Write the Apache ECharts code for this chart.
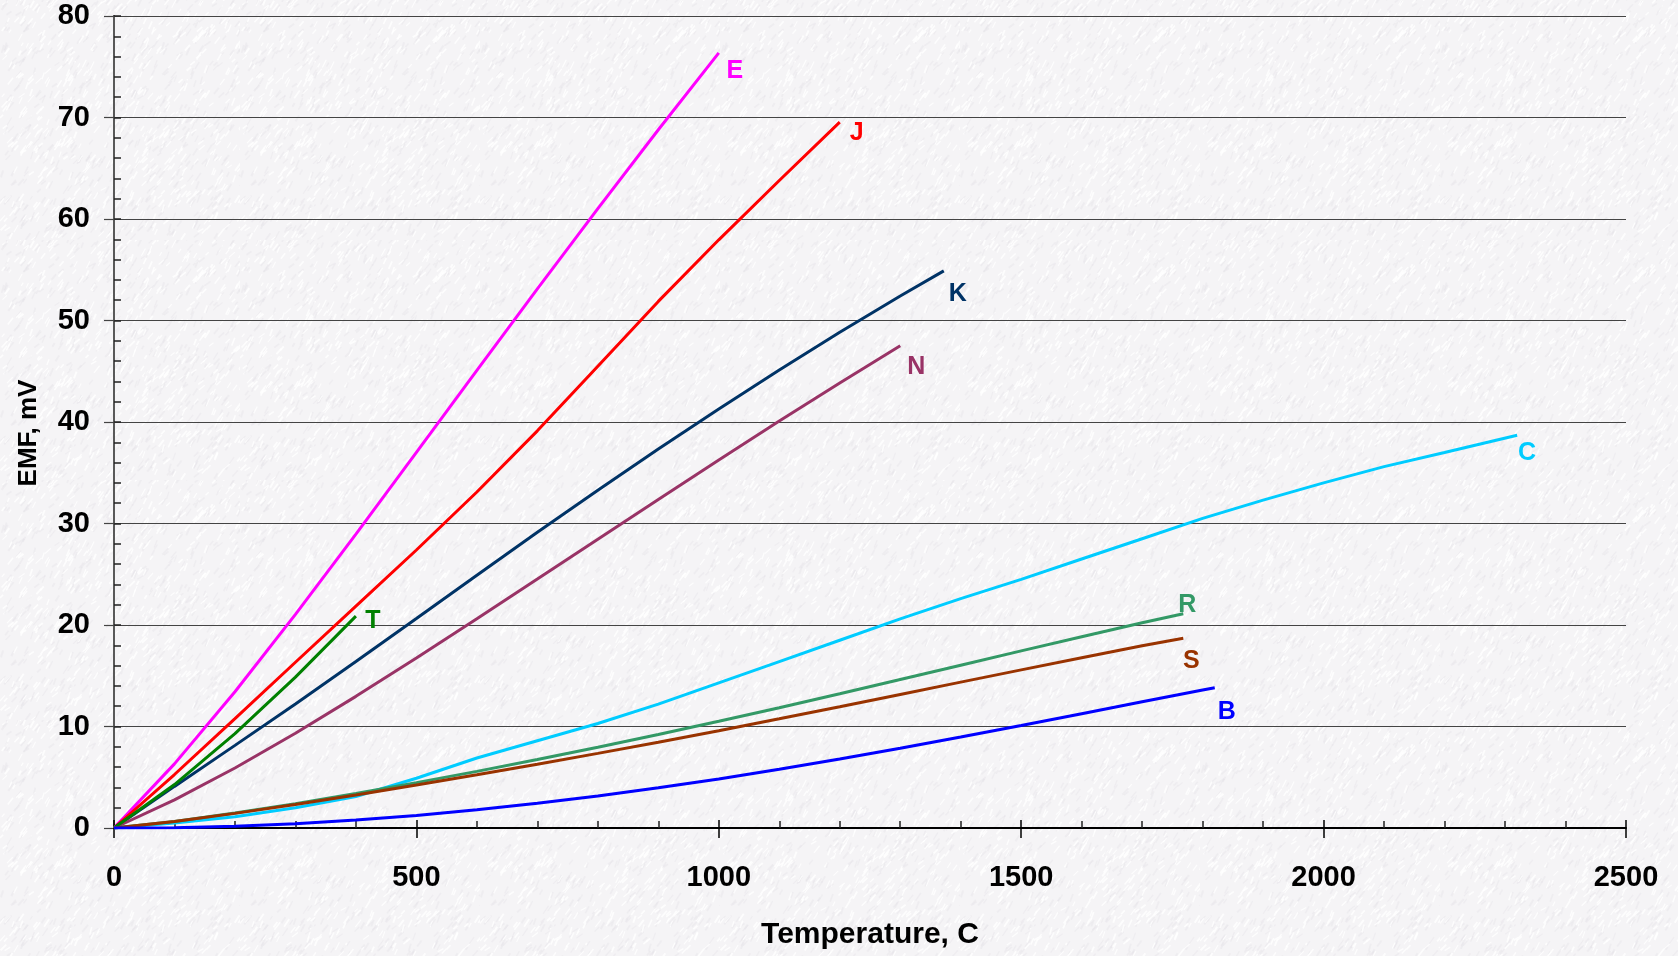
<!DOCTYPE html>
<html>
<head>
<meta charset="utf-8">
<title>Thermocouple EMF</title>
<script src="https://cdn.jsdelivr.net/npm/echarts@6/dist/echarts.min.js"></script>
<style>
  html, body { margin: 0; padding: 0; }
  #chart { width: 1678px; height: 956px; }
</style>
</head>
<body>
<div id="chart"></div>
<script>
// temperature (C) / emf (mV) per thermocouple type
var tempE = [0, 100, 200, 300, 400, 500, 600, 700, 800, 900, 1000];
var emfE = [0, 6.32, 13.42, 21.04, 28.95, 37.01, 45.09, 53.11, 61.02, 68.79, 76.37];

var tempJ = [0, 100, 200, 300, 400, 500, 600, 700, 800, 900, 1000, 1100, 1200];
var emfJ = [0, 5.27, 10.78, 16.33, 21.85, 27.39, 33.10, 39.13, 45.49, 51.88, 57.95, 63.79, 69.55];

var tempK = [0, 100, 200, 300, 400, 500, 600, 700, 800, 900, 1000, 1100, 1200, 1300, 1372];
var emfK = [0, 4.10, 8.14, 12.21, 16.40, 20.64, 24.91, 29.13, 33.28, 37.33, 41.28, 45.12, 48.84, 52.41, 54.89];

var tempN = [0, 100, 200, 300, 400, 500, 600, 700, 800, 900, 1000, 1100, 1200, 1300];
var emfN = [0, 2.77, 5.91, 9.34, 12.97, 16.75, 20.61, 24.53, 28.46, 32.37, 36.26, 40.09, 43.85, 47.51];

var tempT = [0, 100, 200, 300, 400];
var emfT = [0, 4.28, 9.29, 14.86, 20.87];

var tempC = [0, 100, 200, 300, 400, 500, 600, 700, 800, 900, 1000, 1100, 1200, 1300, 1400, 1500, 1600, 1700, 1800, 1900, 2000, 2100, 2200, 2320];
var emfC = [0, 0.5, 1.1, 2.0, 3.1, 4.9, 6.9, 8.6, 10.3, 12.2, 14.3, 16.4, 18.5, 20.6, 22.6, 24.5, 26.5, 28.5, 30.5, 32.3, 34.0, 35.6, 37.0, 38.7];

var tempR = [0, 100, 200, 300, 400, 500, 600, 700, 800, 900, 1000, 1100, 1200, 1300, 1400, 1500, 1600, 1700, 1768];
var emfR = [0, 0.65, 1.47, 2.40, 3.41, 4.47, 5.58, 6.74, 7.95, 9.21, 10.51, 11.85, 13.23, 14.63, 16.04, 17.45, 18.85, 20.22, 21.10];

var tempS = [0, 100, 200, 300, 400, 500, 600, 700, 800, 900, 1000, 1100, 1200, 1300, 1400, 1500, 1600, 1700, 1768];
var emfS = [0, 0.65, 1.44, 2.32, 3.26, 4.23, 5.24, 6.28, 7.35, 8.45, 9.59, 10.76, 11.95, 13.16, 14.37, 15.58, 16.78, 17.95, 18.69];

var tempB = [0, 100, 200, 300, 400, 500, 600, 700, 800, 900, 1000, 1100, 1200, 1300, 1400, 1500, 1600, 1700, 1800, 1820];
var emfB = [0, 0.03, 0.18, 0.43, 0.79, 1.24, 1.79, 2.43, 3.15, 3.96, 4.83, 5.78, 6.79, 7.85, 8.96, 10.10, 11.26, 12.43, 13.59, 13.82];

var font = 'Arial, "Liberation Sans", sans-serif';

// paper-like background texture
function makePaper() {
  var c = document.createElement('canvas');
  c.width = 240; c.height = 240;
  var ctx = c.getContext('2d');
  ctx.fillStyle = '#f5f4f6';
  ctx.fillRect(0, 0, 240, 240);
  var seed = 7;
  function rnd() { seed = (seed * 16807) % 2147483647; return seed / 2147483647; }
  for (var i = 0; i < 1200; i++) {
    var x = rnd() * 240, y = rnd() * 240;
    ctx.strokeStyle = rnd() < 0.55 ? 'rgba(255,255,255,0.8)' : 'rgba(225,223,230,0.35)';
    ctx.lineWidth = 1 + rnd();
    ctx.beginPath();
    ctx.moveTo(x, y);
    ctx.lineTo(x + 2 + rnd() * 4, y - 3 - rnd() * 5);
    ctx.stroke();
  }
  return c;
}

function makeSeries(name, temps, emfs, color, offset) {
  var data = temps.map(function (t, i) { return [t, emfs[i]]; });
  var last = data.length - 1;
  data[last] = {
    value: data[last],
    label: {
      show: true, formatter: name, position: 'inside', offset: offset,
      color: color, fontSize: 25, fontWeight: 'bold', fontFamily: font
    }
  };
  return {
    name: name,
    type: 'line',
    data: data,
    showSymbol: true,
    symbol: 'circle',
    symbolSize: 0.01,
    itemStyle: { color: color },
    lineStyle: { color: color, width: 3 },
    silent: true,
    animation: false,
    emphasis: { disabled: true },
    z: 3
  };
}

function plain(v) { return String(v); }

var chart = echarts.init(document.getElementById('chart'));
var option = {
  backgroundColor: { image: makePaper(), repeat: 'repeat' },
  animation: false,
  grid: { left: 114, right: 52, top: 16, bottom: 128 },
  xAxis: [{
    type: 'value', min: 0, max: 2500, interval: 500, position: 'bottom',
    axisLine: { show: true, onZero: false, lineStyle: { color: '#000', width: 2 } },
    axisTick: { show: true, inside: true, length: 8, lineStyle: { color: '#000', width: 1.5 } },
    minorTick: { show: true, splitNumber: 5, length: 7, lineStyle: { color: '#222', width: 1.5 } },
    splitLine: { show: false },
    axisLabel: { color: '#000', fontSize: 29, fontWeight: 'bold', fontFamily: font, margin: 35, formatter: plain },
    name: 'Temperature, C', nameLocation: 'middle', nameGap: 92,
    nameTextStyle: { color: '#000', fontSize: 30, fontWeight: 'bold', fontFamily: font }
  }, {
    type: 'value', min: 0, max: 2500, interval: 500, position: 'bottom',
    axisLine: { show: false },
    axisTick: { show: true, inside: false, length: 10, lineStyle: { color: '#000', width: 1.5 } },
    axisLabel: { show: false },
    splitLine: { show: false }
  }],
  yAxis: [{
    type: 'value', min: 0, max: 80, interval: 10, position: 'left',
    axisLine: { show: true, onZero: false, lineStyle: { color: '#000', width: 2 } },
    axisTick: { show: true, inside: true, length: 7, lineStyle: { color: '#222', width: 1.5 } },
    minorTick: { show: true, splitNumber: 5, length: 7, lineStyle: { color: '#222', width: 1.5 } },
    splitLine: { show: true, lineStyle: { color: '#444', width: 1.2 } },
    axisLabel: { color: '#000', fontSize: 29, fontWeight: 'bold', fontFamily: font, margin: 24, formatter: plain },
    name: 'EMF, mV', nameLocation: 'middle', nameGap: 72,
    nameTextStyle: { color: '#000', fontSize: 26, fontWeight: 'bold', fontFamily: font, padding: [0, 22, 0, 0] }
  }, {
    type: 'value', min: 0, max: 80, interval: 10, position: 'left',
    axisLine: { show: false },
    axisTick: { show: true, inside: false, length: 10, lineStyle: { color: '#444', width: 1.2 } },
    axisLabel: { show: false },
    splitLine: { show: false }
  }, {
    type: 'value', min: 0, max: 80, interval: 10, position: 'right',
    axisLine: { show: true, lineStyle: { color: '#777', width: 1.5 } },
    axisTick: { show: false },
    axisLabel: { show: false },
    splitLine: { show: false }
  }],
  series: [
    makeSeries('E', tempE, emfE, '#ff00ff', [16, 18]),
    makeSeries('J', tempJ, emfJ, '#ff0000', [17, 11]),
    makeSeries('K', tempK, emfK, '#003366', [14, 23]),
    makeSeries('N', tempN, emfN, '#993366', [16, 21]),
    makeSeries('T', tempT, emfT, '#008000', [17, 5]),
    makeSeries('C', tempC, emfC, '#00ccff', [10, 18]),
    makeSeries('R', tempR, emfR, '#339966', [4, -9]),
    makeSeries('S', tempS, emfS, '#993300', [8, 23]),
    makeSeries('B', tempB, emfB, '#0000ff', [12, 24])
  ]
};
chart.setOption(option);
window.addEventListener('resize', function () {
  chart.resize();
});
</script>
</body>
</html>
